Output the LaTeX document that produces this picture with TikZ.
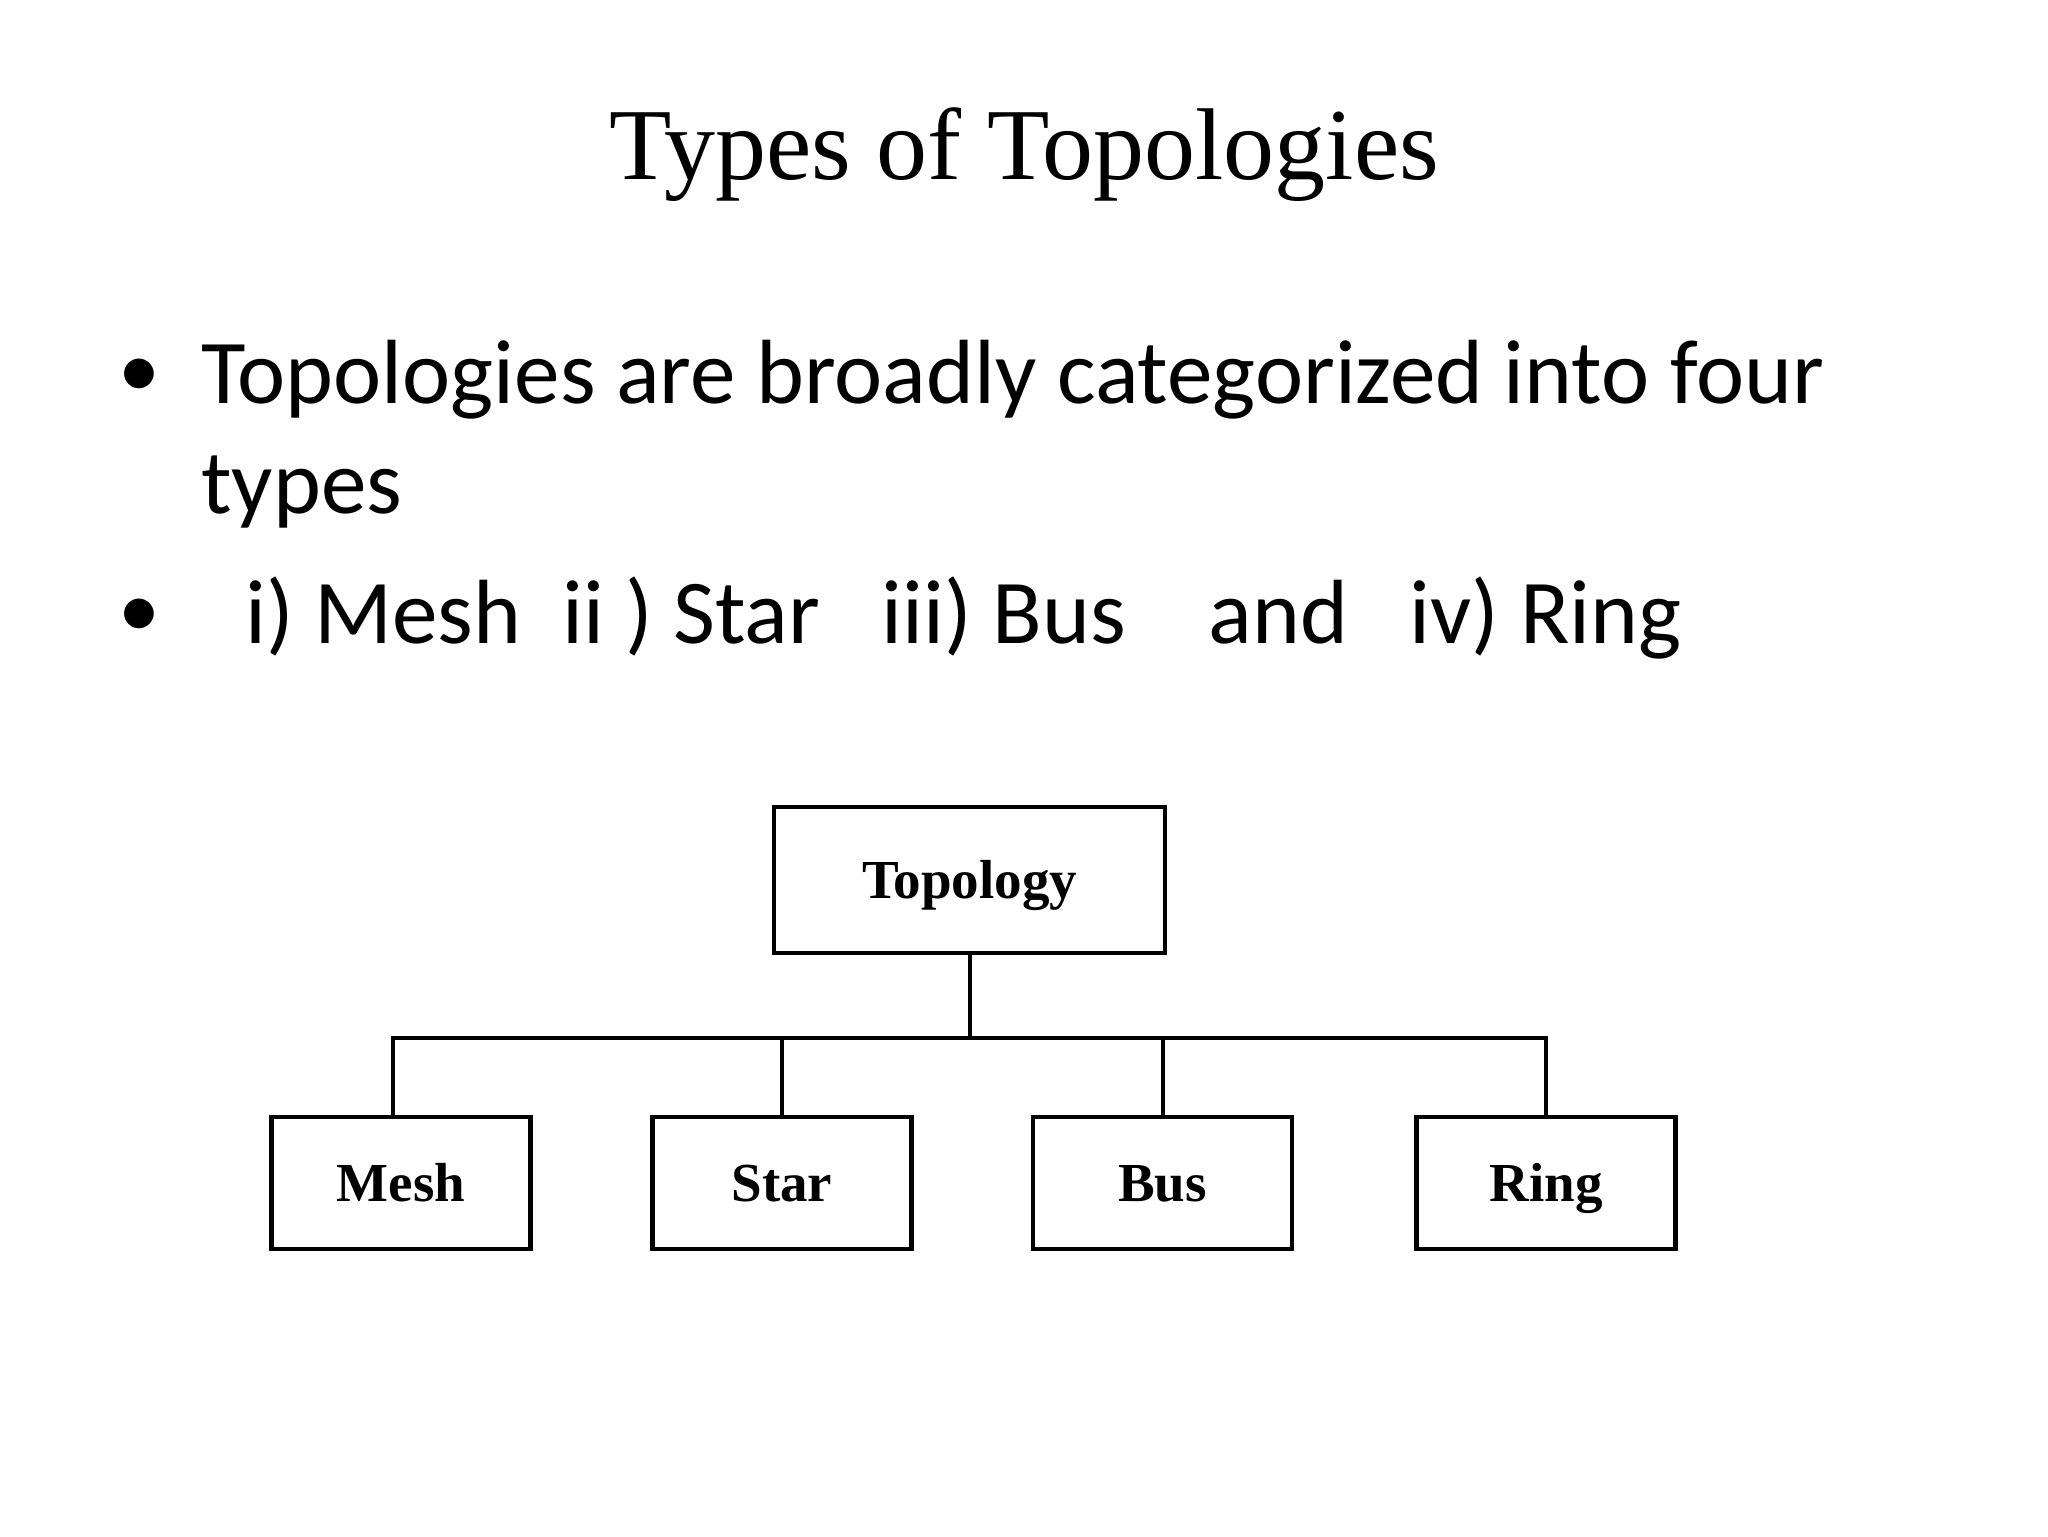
\documentclass[tikz,border=0pt]{standalone}
\usepackage{fontspec}
\setmainfont{Liberation Serif}
\newfontfamily\calib{Carlito}
\begin{document}
\begin{tikzpicture}[x=0.5pt,y=-0.5pt,
  box/.style={draw=black, line width=2.2pt, rectangle, inner sep=0pt,
    font=\fontsize{27.5}{30}\selectfont\bfseries, text height=18.2pt, text depth=0pt},
  topbox/.style={box, minimum width=195.5pt, minimum height=73pt},
  leafbox/.style={box, minimum width=129.5pt, minimum height=66pt},
  conn/.style={draw=black, line width=2pt},
  bodytext/.style={font=\calib\fontsize{45.6}{54}\selectfont, inner sep=0pt, anchor=base west},
  bul/.style={font=\calib\fontsize{42}{50}\selectfont, inner sep=0pt, anchor=base}
]
\useasboundingbox (0,0) rectangle (2048,1536);
\fill[white] (0,0) rectangle (2048,1536);

\node[font=\fontsize{51}{60}\selectfont, inner sep=0pt, anchor=base] (title) at (1024,179) {Types of Topologies};

\node[bul] (b1) at (139,397) {•};
\node[bodytext] (l1) at (201,403) {Topologies are broadly categorized into four};
\node[bodytext] (l2) at (201,513) {types};
\node[bul] (b2) at (139,637) {•};
\node[bodytext] (l3) at (245,643) {i) Mesh~~ii~) Star~~~iii) Bus~~~~and~~~iv) Ring};

\node[topbox] (top) at (969.5,880) {Topology};
\node[leafbox] (mesh) at (401,1183) {Mesh};
\node[leafbox] (star) at (782,1183) {Star};
\node[leafbox] (bus) at (1162.5,1183) {Bus};
\node[leafbox] (ring) at (1546,1183) {Ring};

\coordinate (j) at (969.5,1038);
\coordinate (md) at ([xshift=-4pt]mesh.north);
\draw[conn] (top.south) -- (j);
\draw[conn] (md) -- (md |- j) -- (ring.north |- j) -- (ring.north);
\draw[conn] (star.north) -- (star.north |- j);
\draw[conn] (bus.north) -- (bus.north |- j);
\end{tikzpicture}
\end{document}
